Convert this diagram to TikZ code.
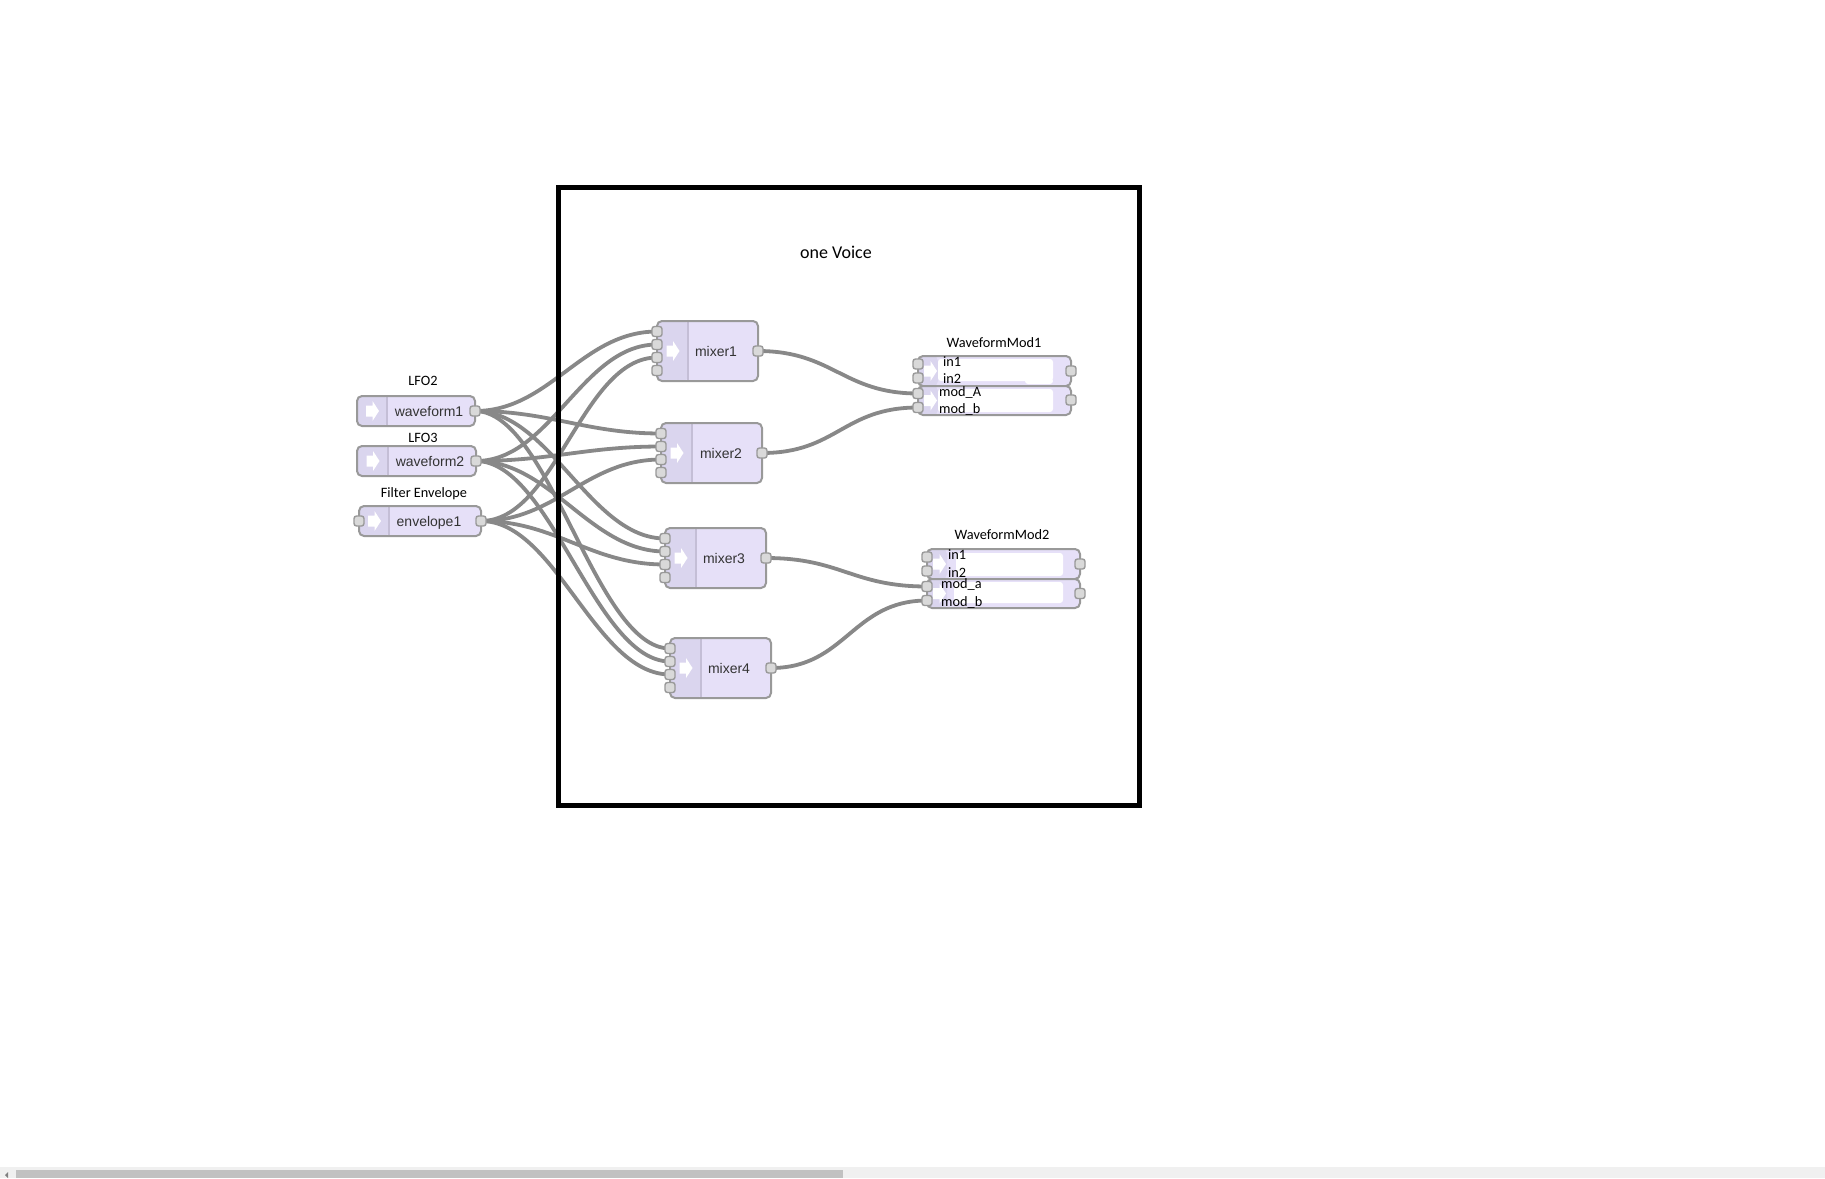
\documentclass[tikz,border=0pt]{standalone}
\usepackage{fontspec}
\setmainfont{Carlito}
\newfontfamily\arialf{Liberation Sans}
\usetikzlibrary{calc}
\definecolor{lav}{HTML}{E6E0F8}
\definecolor{stripc}{HTML}{DAD5EE}
\definecolor{divc}{HTML}{C4BED6}
\definecolor{boxc}{HTML}{999999}
\definecolor{portc}{HTML}{D9D9D9}
\definecolor{wirec}{HTML}{888888}
\definecolor{nodetxt}{HTML}{333333}
\definecolor{sbbg}{HTML}{F0F0F0}
\definecolor{sbthumb}{HTML}{C1C1C1}
\pgfdeclarelayer{back}
\pgfdeclarelayer{bg}
\pgfsetlayers{back,bg,main}
\newcommand{\stripw}{31}
\newcommand{\arrowicon}[2]{\fill[white] (#1-6,#2-5.5) -- (#1+0.5,#2-5.5) -- (#1+0.5,#2-10) -- (#1+7,#2) -- (#1+0.5,#2+10) -- (#1+0.5,#2+5.5) -- (#1-6,#2+5.5) -- cycle;}
\tikzset{
  audiobox/.style={draw=boxc, line width=2pt, fill=lav, rounded corners=5pt, inner sep=0pt,
    path picture={\fill[stripc] (path picture bounding box.north west) rectangle ([xshift=\stripw pt]path picture bounding box.south west);
      \draw[divc, line width=1.5pt] ([xshift=\stripw pt]path picture bounding box.north west) -- ([xshift=\stripw pt]path picture bounding box.south west);}},
  stripwidth/.code={\renewcommand{\stripw}{#1}},
  modbox/.style={draw=boxc, line width=2pt, fill=lav, rounded corners=5pt, inner sep=0pt,
    path picture={\fill[stripc] (path picture bounding box.north west) rectangle ([xshift=20pt]path picture bounding box.south west);}},
  port/.style={draw=boxc, fill=portc, line width=1.4pt, minimum size=10pt, rounded corners=2.5pt, inner sep=0pt},
  wire/.style={draw=wirec, line width=3.8pt},
  nlabel/.style={font=\arialf\fontsize{14}{16}\selectfont, text=nodetxt, inner sep=0pt, anchor=base},
  alabel/.style={font=\fontsize{14.3}{16}\selectfont, text=black, inner sep=0pt, anchor=base},
  plabel/.style={font=\fontsize{14.3}{16}\selectfont, text=black, inner sep=0pt, anchor=base west},
  paint/.style={fill=white, rounded corners=3pt},
}
\begin{document}
\begin{tikzpicture}[x=1pt,y=-1pt]
\useasboundingbox (0,0) rectangle (1825,1178);
\begin{pgfonlayer}{back}
\fill[white] (0,0) rectangle (1825,1178);
\end{pgfonlayer}

% source nodes
\node[audiobox, stripwidth=30, minimum width=118pt, minimum height=30pt] (w1) at (416,411) {};
\arrowicon{372}{411}
\node[nlabel] (w1lab) at (429,416) {waveform1};
\node[alabel] (lfo2) at (423,385) {LFO2};
\node[port] (w1o) at (475,411) {};

\node[audiobox, stripwidth=31, minimum width=119pt, minimum height=30pt] (w2) at (416.5,461) {};
\arrowicon{372.5}{461}
\node[nlabel] (w2lab) at (430,466) {waveform2};
\node[alabel] (lfo3) at (423,442) {LFO3};
\node[port] (w2o) at (476,461) {};

\node[audiobox, stripwidth=30, minimum width=122pt, minimum height=30pt] (e1) at (420,521) {};
\arrowicon{374}{521}
\node[nlabel] (e1lab) at (429,526) {envelope1};
\node[alabel] (fenv) at (424,497) {Filter Envelope};
\node[port] (e1i) at (359,521) {};
\node[port] (e1o) at (481,521) {};

% mixers
\foreach \m/\cx/\cy/\lx in {1/707.5/351/716, 2/711.5/453/721, 3/715.5/558/724, 4/720.5/668/729} {
  \node[audiobox, stripwidth=31, minimum width=101pt, minimum height=60pt] (m\m) at (\cx,\cy) {};
  \arrowicon{\cx-35}{\cy}
  \node[nlabel] (m\m lab) at (\lx,\cy+5) {mixer\m};
  \node[port] (m\m-0) at (\cx-50.5,\cy-19.5) {};
  \node[port] (m\m-1) at (\cx-50.5,\cy-6.5) {};
  \node[port] (m\m-2) at (\cx-50.5,\cy+6.5) {};
  \node[port] (m\m-3) at (\cx-50.5,\cy+19.5) {};
  \node[port] (m\m o) at (\cx+50.5,\cy) {};
}

% WaveformMod1
\node[modbox, minimum width=153pt, minimum height=30pt] (wm1a) at (994.5,371) {};
\node[modbox, minimum width=153pt, minimum height=29pt] (wm1b) at (994.5,400.5) {};
\arrowicon{930}{371}
\arrowicon{930}{400.5}
\fill[paint] (938,359) rectangle (1053,381);
\fill[paint] (1025,378) rectangle (1053,384);
\fill[paint] (938,389) rectangle (1053,412);
\node[alabel] (wm1lab) at (994,347) {WaveformMod1};
\node[plabel] (wm1in1) at (943,366) {in1};
\node[plabel] (wm1in2) at (943,383) {in2};
\node[plabel] (wm1ma) at (939,396) {mod\_A};
\node[plabel] (wm1mb) at (939,413) {mod\_b};
\node[port] (wm1-0) at (918,364) {};
\node[port] (wm1-1) at (918,378) {};
\node[port] (wm1-2) at (918,393.5) {};
\node[port] (wm1-3) at (918,407.5) {};
\node[port] (wm1o0) at (1071,371) {};
\node[port] (wm1o1) at (1071,400) {};

% WaveformMod2
\node[modbox, minimum width=153pt, minimum height=30pt] (wm2a) at (1003.5,564) {};
\node[modbox, minimum width=153pt, minimum height=29pt] (wm2b) at (1003.5,593.5) {};
\arrowicon{939}{564}
\arrowicon{939}{593.5}
\fill[paint] (956,553) rectangle (1063,576);
\fill[paint] (954,582) rectangle (1063,603);
\node[alabel] (wm2lab) at (1002,539) {WaveformMod2};
\node[plabel] (wm2in1) at (948,559) {in1};
\node[plabel] (wm2in2) at (948,577) {in2};
\node[plabel] (wm2ma) at (941,588) {mod\_a};
\node[plabel] (wm2mb) at (941,606) {mod\_b};
\node[port] (wm2-0) at (927,557) {};
\node[port] (wm2-1) at (927,571) {};
\node[port] (wm2-2) at (927,586.5) {};
\node[port] (wm2-3) at (927,600.5) {};
\node[port] (wm2o0) at (1080,564) {};
\node[port] (wm2o1) at (1080,593.5) {};

% wires
\begin{pgfonlayer}{bg}
\foreach \m in {1,2,3,4} {
  \draw[wire] (w1o.center) .. controls +(75,0) and +(-75,0) .. (m\m-0.center);
  \draw[wire] (w2o.center) .. controls +(75,0) and +(-75,0) .. (m\m-1.center);
  \draw[wire] (e1o.center) .. controls +(75,0) and +(-75,0) .. (m\m-2.center);
}
\draw[wire] (m1o.center) .. controls +(75,0) and +(-75,0) .. (wm1-2.center);
\draw[wire] (m2o.center) .. controls +(75,0) and +(-75,0) .. (wm1-3.center);
\draw[wire] (m3o.center) .. controls +(75,0) and +(-75,0) .. (wm2-2.center);
\draw[wire] (m4o.center) .. controls +(75,0) and +(-75,0) .. (wm2-3.center);
\end{pgfonlayer}

% voice frame
\draw[black, line width=5pt] (558.5,187.5) rectangle (1139.5,805.5);
\node[font=\fontsize{18}{20}\selectfont, inner sep=0pt, anchor=base] (voice) at (836,258) {one Voice};

% scrollbar
\fill[sbbg] (0,1167) rectangle (1825,1178);
\fill[sbthumb] (16,1170) rectangle (843,1178);
\fill[gray] (8,1172) -- (8,1178) -- (5,1175) -- cycle;
\end{tikzpicture}
\end{document}
